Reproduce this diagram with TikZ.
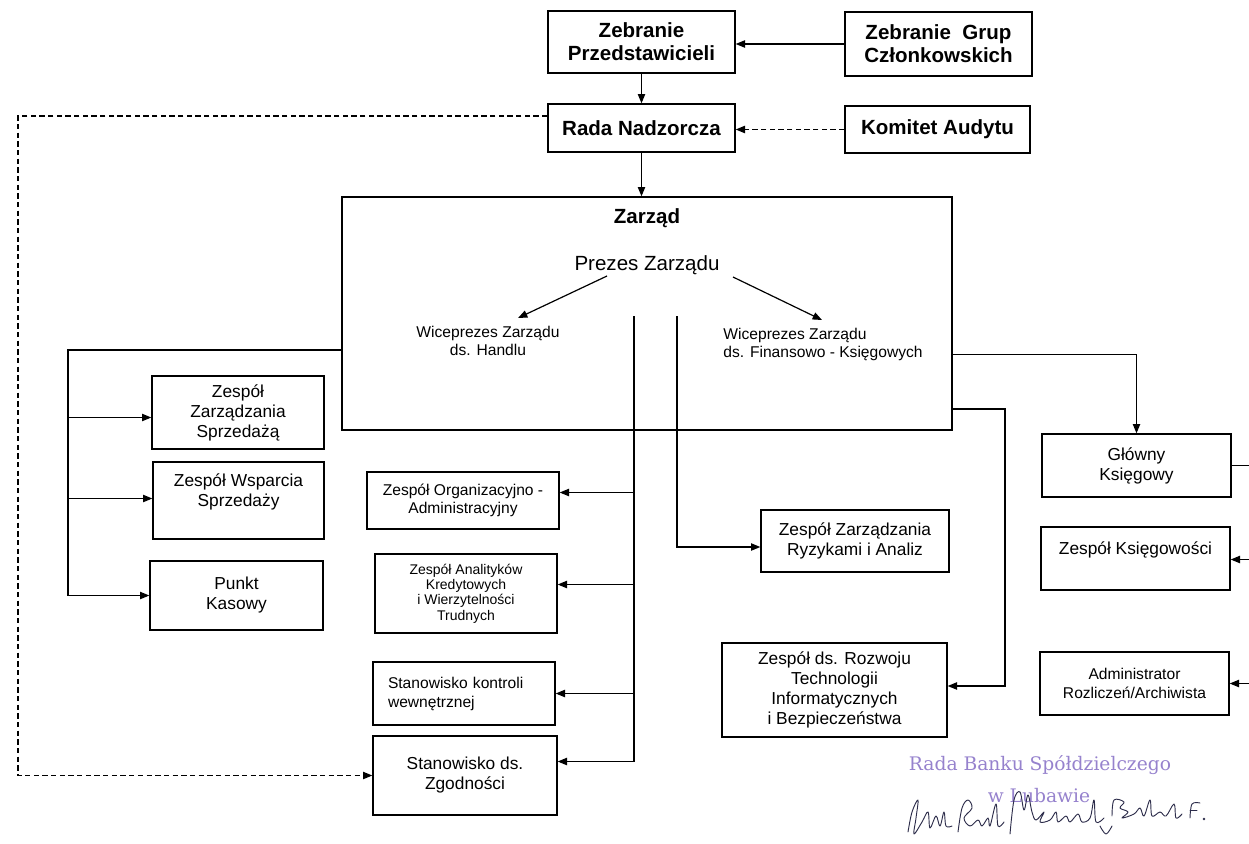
\documentclass[tikz,border=0pt]{standalone}
\usepackage{fontspec}
\setmainfont{Liberation Sans}
\newfontfamily\stampfont{DejaVu Serif}
\usepackage{tikz}
\usetikzlibrary{arrows.meta}
\usetikzlibrary{calc}
\definecolor{stamp}{RGB}{150,130,205}
\definecolor{ink}{RGB}{45,45,75}

\tikzset{
  unit/.style={draw, line width=1pt, align=center, inner sep=1pt, font=\fontsize{13}{15}\selectfont},
  board/.style={unit, font=\bfseries\fontsize{15.4}{17.25}\selectfont},
  small/.style={font=\fontsize{11.7}{13.5}\selectfont},
  wire/.style={line width=0.9pt},
  link/.style={wire, -{Triangle[length=7pt,width=5.5pt]}},
  dlink/.style={link, dash pattern=on 4pt off 2.5pt},
  sign/.style={draw=ink, line width=0.7pt, line cap=round, line join=round},
}

\begin{document}
\begin{tikzpicture}[x=0.75pt,y=0.75pt,yscale=-1,xscale=1]
    \useasboundingbox (0,0) rectangle (1249,843); %page of 1249 x 843

    %Shape: Rectangle [Zebranie Przedstawicieli]
    \node [board, minimum width=140.25pt, minimum height=46.5pt] (przed) at (641.5,42) {Zebranie\\Przedstawicieli};
    %Shape: Rectangle [Zebranie Grup]
    \node [board, minimum width=140.25pt, minimum height=48pt] (grup) at (938.5,44) {Zebranie\ \ Grup\\Członkowskich};
    %Shape: Rectangle [Rada]
    \node [board, minimum width=140.25pt, minimum height=36pt] (rada) at (641.5,128) {Rada Nadzorcza};
    %Shape: Rectangle [Komitet]
    \node [board, minimum width=138.75pt, minimum height=35.25pt] (komitet) at (937.5,129.5) {Komitet Audytu};

    %Shape: Rectangle [Zarzad]
    \node [draw, line width=1pt, minimum width=457.5pt, minimum height=174.75pt] (zarzad) at (647,313.5) {};
    % Text Node
    \node [font=\bfseries\fontsize{15.4}{17}\selectfont] (zarzadT) at (647,218) {Zarząd};
    % Text Node
    \node [font=\fontsize{15.4}{17}\selectfont] (prezes) at (647,265) {Prezes Zarządu};
    % Text Node
    \node [small, align=center] (wiceH) at (488,341) {Wiceprezes Zarządu\\ds. Handlu};
    % Text Node
    \node [small, align=left] (wiceF) at (823,344) {Wiceprezes Zarządu\\ds. Finansowo - Księgowych};

    %Shape: Rectangle [left column]
    \node [unit, minimum width=129pt, minimum height=54.75pt] (sprzed) at (238,412.5) {Zespół\\Zarządzania\\Sprzedażą};
    \node [unit, minimum width=128.25pt, minimum height=57.75pt] (wsparcie) at (238.5,500.5) {Zespół Wsparcia\\Sprzedaży\\~};
    \node [unit, minimum width=129.75pt, minimum height=51.75pt] (punkt) at (236.5,595.5) {Punkt\\Kasowy};

    %Shape: Rectangle [middle column]
    \node [unit, small, minimum width=144pt, minimum height=42.75pt] (org) at (463,500.5) {Zespół Organizacyjno -\\Administracyjny};
    \node [unit, font=\fontsize{10.5}{11.6}\selectfont, minimum width=136.5pt, minimum height=59.25pt] (analit) at (466,593.5) {Zespół Analityków\\Kredytowych\\i Wierzytelności\\Trudnych};
    \node [unit, font=\fontsize{11.7}{14.25}\selectfont, align=left, text width=114pt, minimum width=136.5pt, minimum height=47.25pt] (kontrola) at (464,693.5) {Stanowisko kontroli\\wewnętrznej};
    \node [unit, minimum width=138pt, minimum height=59.25pt] (zgod) at (465,775.5) {Stanowisko ds.\\Zgodności};

    %Shape: Rectangle [right middle]
    \node [unit, minimum width=141pt, minimum height=46.5pt] (ryzyk) at (855,541) {Zespół Zarządzania\\Ryzykami i Analiz};
    \node [unit, minimum width=168.75pt, minimum height=70.5pt] (rozwoj) at (834.5,690) {Zespół ds. Rozwoju\\Technologii\\Informatycznych\\i Bezpieczeństwa};

    %Shape: Rectangle [right column]
    \node [unit, minimum width=141.75pt, minimum height=47.25pt] (glowny) at (1136.5,465.5) {Główny\\Księgowy};
    \node [unit, minimum width=141.75pt, minimum height=47.25pt] (ksieg) at (1135.5,558.5) {Zespół Księgowości\\~};
    \node [unit, font=\fontsize{11.7}{14.25}\selectfont, minimum width=141.75pt, minimum height=47.25pt] (admin) at (1134.5,683.5) {Administrator\\Rozliczeń/Archiwista};

    %bus points
    \coordinate (busL) at (68,350);
    \coordinate (busA) at (634,316);
    \coordinate (busB) at (677,316);
    \coordinate (busR) at (1005,409);
    \coordinate (busK) at (1249,466);
    \coordinate (dashL) at (18,116);

    %Straight Lines [top]
    \draw [link] (grup.west) -- (grup.west -| przed.east);
    \draw [link] (przed.south) -- (rada.north);
    \draw [dlink] (komitet.west) -- (komitet.west -| rada.east);
    \draw [link] (rada.south) -- (rada.south |- zarzad.north);
    \draw [dlink] ($(rada.west)+(0,-12)$) -- (dashL) |- (zgod.west);

    %Straight Lines [inside Zarzad]
    \draw [link] ($(prezes.center)+(-40,11)$) -- ($(wiceH.center)+(30,-23)$);
    \draw [link] ($(prezes.center)+(86,12)$) -- ($(wiceF.center)+(-1,-24)$);

    %Straight Lines [left]
    \draw [wire] (zarzad.west |- busL) -- (busL) -- (busL |- punkt.west);
    \draw [link] ($(busL |- sprzed.west)+(0,5)$) -- ($(sprzed.west)+(0,5)$);
    \draw [link] ($(busL |- wsparcie.west)+(0,-2)$) -- ($(wsparcie.west)+(0,-2)$);
    \draw [link] (busL |- punkt.west) -- (punkt.west);

    %Straight Lines [middle]
    \draw [wire] (busA) -- ($(busA |- zgod.east)+(0,-14)$);
    \draw [link] ($(busA |- org.east)+(0,-8)$) -- ($(org.east)+(0,-8)$);
    \draw [link] ($(busA |- analit.east)+(0,-9)$) -- ($(analit.east)+(0,-9)$);
    \draw [link] (busA |- kontrola.east) -- (kontrola.east);
    \draw [link] ($(busA |- zgod.east)+(0,-14)$) -- ($(zgod.east)+(0,-14)$);
    \draw [link] (busB) |- ($(ryzyk.west)+(0,6)$);

    %Straight Lines [right]
    \draw [link] ($(zarzad.east)+(0,41)$) -| (glowny.north);
    \draw [link] (zarzad.east |- busR) -- (busR) |- ($(rozwoj.east)+(0,-4)$);
    \draw [wire] (glowny.east) -- (glowny.east -| busK);
    \draw [link] ($(ksieg.east -| busK)+(0,1)$) -- ($(ksieg.east)+(0,1)$);
    \draw [link] (admin.east -| busK) -- (admin.east);

    % Text Node [stamp]
    \node [text=stamp, font=\stampfont\fontsize{14}{16}\selectfont] (pieczec) at (1040,765) {Rada Banku Spółdzielczego};
    \node [text=stamp, font=\stampfont\fontsize{14}{16}\selectfont] (miasto) at (1039,796) {w Lubawie};

    %Curve Lines [signatures]
    \draw [sign] plot [smooth, tension=0.6] coordinates {(908,832) (912,812) (918,800) (916,818) (914,834) (922,822) (928,812) (930,828) (936,816) (940,826) (944,812) (946,826) (952,826)};
    \draw [sign] plot [smooth, tension=0.6] coordinates {(958,832) (962,808) (968,800) (972,808) (964,818) (970,826) (978,820) (982,826) (988,818) (990,826) (996,804) (998,826) (1004,822)};
    \draw [sign] plot [smooth, tension=0.6] coordinates {(1010,834) (1014,800) (1020,792) (1024,810) (1028,795) (1032,812) (1036,820) (1044,812) (1040,822) (1050,820) (1056,812) (1058,822) (1066,816) (1070,822) (1078,814) (1082,822) (1090,818) (1094,800) (1096,822) (1104,818)};
    \draw [sign] plot [smooth, tension=0.6] coordinates {(1100,826) (1106,834) (1112,826)};
    \draw [sign] plot [smooth, tension=0.6] coordinates {(1112,816) (1114,800) (1124,802) (1120,808) (1128,812) (1122,818) (1134,814) (1140,808) (1144,816) (1150,800) (1152,816) (1160,812) (1166,816) (1174,804) (1176,818) (1182,814)};
    \draw [sign] plot [smooth, tension=0.6] coordinates {(1190,818) (1192,804) (1200,803)};
    \draw [sign] (1190,810) -- (1197,810);
    \fill [ink] (1204,819) circle (1pt);
\end{tikzpicture}
\end{document}
